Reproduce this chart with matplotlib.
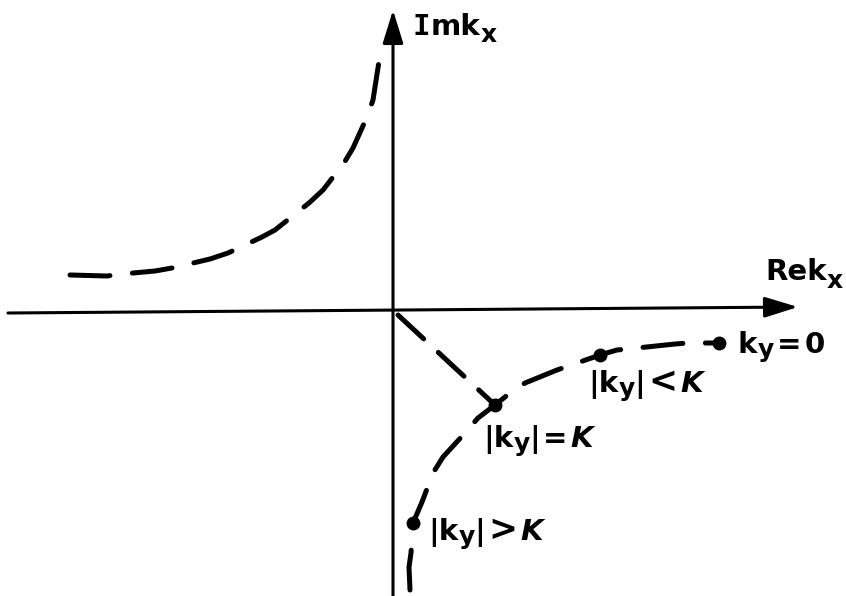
import numpy as np
import matplotlib.pyplot as plt
from matplotlib.transforms import offset_copy

# branch of Im k_x > 0 in the second quadrant (Re k_x < 0)
upper_re = [-323, -286, -271, -238, -221, -183, -165, -131, -118, -84, -70, -49, -40, -26, -20, -13]
upper_im = [36, 35, 37, 40, 43, 52, 58, 74, 81, 108, 121, 148, 163, 194, 211, 256]

# branch in the fourth quadrant, traced as |k_y| goes from large to 0
lower_re = [17, 16, 18, 20, 29, 40, 50, 72, 85, 102, 117, 132, 164, 184, 207, 224, 244, 282, 295, 326]
lower_im = [-279, -256, -242, -212, -191, -162, -146, -122, -107, -94, -82, -72, -59, -52, -44, -39, -37, -33, -32, -32]

# marked points on the lower branch
dot_re = [20, 102, 207, 326]
dot_im = [-212, -94, -44, -32]
dot_labels = [('|k', 'y', '|', '>', 'K'), ('|k', 'y', '|', '=', 'K'),
              ('|k', 'y', '|', '<', 'K'), ('k', 'y', '', '=', '0')]
label_pos = [(35, -229), (90, -136), (195, -81), (345, -42)]

fig = plt.figure(figsize=(8.46, 5.96), dpi=100)
ax = fig.add_axes([0, 0, 1, 1])
ax.set_xlim(-393, 453)
ax.set_ylim(-285, 311)
ax.axis('off')
renderer = fig.canvas.get_renderer()


def lettering(x, y, pieces):
    # pieces: (text, size, baseline shift px, style, family, gap after px), left to right
    dx = 0
    for s, size, dy, style, family, gap in pieces:
        tr = offset_copy(ax.transData, fig=fig, x=dx, y=dy, units='dots')
        t = ax.text(x, y, s, transform=tr, fontsize=size, fontweight='bold',
                    fontstyle=style, family=family, ha='left', va='baseline')
        dx += (t.get_window_extent(renderer).width if s else 0) + gap


# coordinate axes with filled arrow heads
arrow = dict(arrowstyle='-|>,head_length=0.68,head_width=0.21', lw=2.2, color='black',
             shrinkA=0, shrinkB=0, mutation_scale=30)
ax.annotate('', xy=(405, 4), xytext=(-385, -2), arrowprops=arrow)
ax.annotate('', xy=(0, 301), xytext=(0, -290), arrowprops=arrow)

dash_kw = dict(color='black', lw=3.6, dashes=(8, 4.5), dash_capstyle='round',
               solid_capstyle='round')
ax.plot(upper_re, upper_im, **dash_kw)
ax.plot(lower_re, lower_im, **dash_kw)
ax.plot([5, dot_re[1]], [-4, dot_im[1]], color='black', lw=3.6, dashes=(7, 4),
        dash_capstyle='round')
ax.plot(dot_re, dot_im, 'o', color='black', ms=9)

sans = 'DejaVu Sans'
for (a, sub, bar, rel, k), (x, y) in zip(dot_labels, label_pos):
    k_style = 'italic' if k == 'K' else 'normal'
    rel_size = 25 if rel in '<>' else 21
    lettering(x, y, [(a, 21, 0, 'normal', sans, 0), (sub, 18, -4, 'normal', sans, 0),
                     (bar, 21, 0, 'normal', sans, 3), (rel, rel_size, 0, 'normal', sans, 3),
                     (k, 21, 0, k_style, sans, 0)])

lettering(19, 276, [('I', 21, 0, 'normal', 'DejaVu Sans Mono', 1), ('mk', 21, 0, 'normal', sans, 0),
                    ('x', 18, -7, 'normal', sans, 0)])
lettering(372, 31, [('Rek', 21, 0, 'normal', sans, 0), ('x', 18, -8, 'normal', sans, 0)])

fig.savefig('out.png', dpi=100)
